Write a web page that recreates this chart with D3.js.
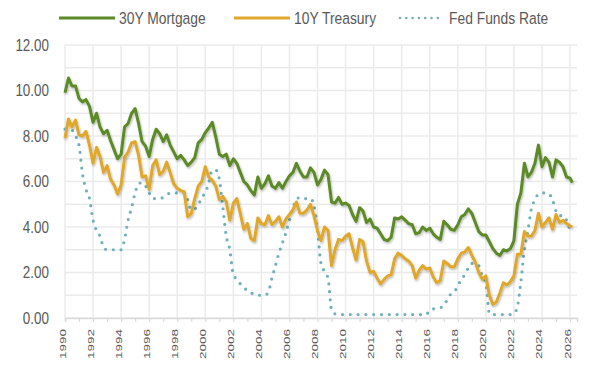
<!DOCTYPE html>
<html>
<head>
<meta charset="utf-8">
<script src="https://cdn.jsdelivr.net/npm/d3@7"></script>
<style>
  body { margin: 0; background: #fff; }
  svg { display: block; font-family: "Liberation Sans Narrow", "Liberation Sans", sans-serif; }
</style>
</head>
<body>
<svg id="chart" width="600" height="374"></svg>
<script>
const dates = [
  "1990-01","1990-04","1990-07","1990-10","1991-01","1991-04","1991-07","1991-10",
  "1992-01","1992-04","1992-07","1992-10","1993-01","1993-04","1993-07","1993-10",
  "1994-01","1994-04","1994-07","1994-10","1995-01","1995-04","1995-07","1995-10",
  "1996-01","1996-04","1996-07","1996-10","1997-01","1997-04","1997-07","1997-10",
  "1998-01","1998-04","1998-07","1998-10","1999-01","1999-04","1999-07","1999-10",
  "2000-01","2000-04","2000-07","2000-10","2001-01","2001-04","2001-07","2001-10",
  "2002-01","2002-04","2002-07","2002-10","2003-01","2003-04","2003-07","2003-10",
  "2004-01","2004-04","2004-07","2004-10","2005-01","2005-04","2005-07","2005-10",
  "2006-01","2006-04","2006-07","2006-10","2007-01","2007-04","2007-07","2007-10",
  "2008-01","2008-04","2008-07","2008-10","2009-01","2009-04","2009-07","2009-10",
  "2010-01","2010-04","2010-07","2010-10","2011-01","2011-04","2011-07","2011-10",
  "2012-01","2012-04","2012-07","2012-10","2013-01","2013-04","2013-07","2013-10",
  "2014-01","2014-04","2014-07","2014-10","2015-01","2015-04","2015-07","2015-10",
  "2016-01","2016-04","2016-07","2016-10","2017-01","2017-04","2017-07","2017-10",
  "2018-01","2018-04","2018-07","2018-10","2019-01","2019-04","2019-07","2019-10",
  "2020-01","2020-04","2020-07","2020-10","2021-01","2021-04","2021-07","2021-10",
  "2022-01","2022-04","2022-07","2022-10","2023-01","2023-04","2023-07","2023-10",
  "2024-01","2024-04","2024-07","2024-10","2025-01","2025-04","2025-07","2025-10",
  "2026-01","2026-03"
];

const mortgage30 = [
  9.9, 10.55, 10.2, 10.2,   9.65, 9.5, 9.6, 9.3,
  8.6, 9.0, 8.4, 8.1,       8.25, 7.8, 7.4, 7.0,
  7.2, 8.4, 8.55, 9.0,      9.2, 8.55, 7.75, 7.55,
  7.1, 7.85, 8.3, 8.1,      7.75, 8.05, 7.6, 7.3,
  7.0, 7.15, 6.95, 6.7,     6.85, 7.05, 7.7, 7.85,
  8.15, 8.35, 8.6, 7.95,    7.2, 7.1, 7.2, 6.7,
  7.0, 6.8, 6.4, 6.0,       5.85, 5.6, 5.4, 6.2,
  5.7, 5.9, 6.25, 5.8,      5.7, 5.95, 5.7, 6.0,
  6.25, 6.4, 6.8, 6.45,     6.2, 6.2, 6.6, 6.4,
  5.85, 6.1, 6.5, 6.3,      5.1, 5.05, 5.3, 5.0,
  5.05, 4.95, 4.55, 4.25,   4.85, 4.7, 4.2, 4.35,
  4.0, 3.95, 3.7, 3.45,     3.4, 3.55, 4.4, 4.35,
  4.45, 4.3, 4.15, 4.1,     3.7, 3.75, 4.0, 3.85,
  3.95, 3.7, 3.55, 3.45,    4.25, 4.1, 3.9, 3.85,
  4.1, 4.45, 4.55, 4.8,     4.6, 4.2, 3.8, 3.65,
  3.65, 3.35, 3.05, 2.85,   2.75, 3.0, 2.95, 3.05,
  3.4, 5.0, 5.5, 6.8,       6.2, 6.4, 6.8, 7.6,
  6.65, 7.05, 6.85, 6.2,    6.95, 6.85, 6.65, 6.2,
  6.15, 5.95
];

const treasury10 = [
  7.9, 8.75, 8.4, 8.7,      8.05, 8.0, 8.2, 7.6,
  6.8, 7.5, 7.1, 6.4,       6.7, 6.1, 5.85, 5.45,
  5.85, 7.05, 7.3, 7.7,     7.75, 7.15, 6.2, 6.25,
  5.65, 6.7, 6.95, 6.3,     6.45, 6.85, 6.4, 5.9,
  5.7, 5.6, 5.55, 4.45,     4.6, 5.25, 5.8, 6.0,
  6.65, 6.2, 6.05, 5.8,     5.2, 5.35, 5.1, 4.3,
  5.05, 5.25, 4.6, 3.9,     4.15, 3.5, 3.4, 4.4,
  4.15, 4.1, 4.5, 4.1,      4.25, 4.45, 4.0, 4.35,
  4.55, 4.75, 5.1, 4.6,     4.6, 4.75, 5.0, 4.5,
  3.85, 3.4, 4.0, 3.85,     2.3, 3.0, 3.45, 3.4,
  3.6, 3.7, 3.1, 2.55,      3.45, 3.35, 2.5, 2.0,
  2.05, 1.75, 1.5, 1.7,     1.85, 1.9, 2.6, 2.85,
  2.75, 2.6, 2.5, 2.3,      1.75, 2.1, 2.3, 2.15,
  2.2, 1.8, 1.55, 1.65,     2.5, 2.4, 2.25, 2.25,
  2.6, 2.85, 2.9, 3.1,      2.75, 2.45, 2.0, 1.7,
  1.85, 1.0, 0.6, 0.7,      1.1, 1.55, 1.45, 1.6,
  1.85, 2.8, 2.8, 3.8,      3.6, 3.6, 3.85, 4.6,
  4.0, 4.2, 4.4, 3.9,       4.55, 4.2, 4.3, 4.15,
  4.05, 4.0
];

const fedFunds = [
  8.3, 8.25, 8.25, 8.0,     7.6, 6.35, 5.65, 5.25,
  4.3, 3.85, 3.6, 3.1,      3.0, 3.0, 3.0, 3.0,
  3.0, 3.45, 4.3, 4.85,     5.5, 5.9, 5.95, 5.8,
  5.5, 5.25, 5.25, 5.25,    5.3, 5.4, 5.5, 5.5,
  5.5, 5.5, 5.5, 5.2,       4.75, 4.8, 4.95, 5.3,
  5.5, 5.95, 6.5, 6.5,      6.1, 4.9, 3.6, 3.0,
  1.9, 1.7, 1.5, 1.35,      1.2, 1.1, 1.05, 1.0,
  1.0, 1.0, 1.15, 1.75,     2.3, 2.85, 3.3, 3.75,
  4.3, 4.85, 5.2, 5.3,      5.25, 5.25, 5.25, 4.95,
  3.85, 2.4, 2.05, 1.75,    0.35, 0.18, 0.15, 0.15,
  0.15, 0.15, 0.15, 0.15,   0.15, 0.15, 0.15, 0.15,
  0.15, 0.15, 0.15, 0.15,   0.15, 0.15, 0.15, 0.15,
  0.15, 0.15, 0.15, 0.15,   0.15, 0.15, 0.15, 0.15,
  0.35, 0.4, 0.42, 0.45,    0.55, 0.8, 1.05, 1.15,
  1.4, 1.7, 1.9, 2.2,       2.4, 2.4, 2.3, 1.85,
  1.55, 0.2, 0.15, 0.15,    0.15, 0.15, 0.15, 0.15,
  0.2, 0.5, 1.6, 3.0,       3.85, 4.8, 5.2, 5.45,
  5.5, 5.5, 5.45, 5.2,      4.7, 4.5, 4.5, 4.3,
  3.85, null
];

const seriesNames = ["30Y Mortgage", "10Y Treasury", "Fed Funds Rate"];
const yTicks = [0, 2, 4, 6, 8, 10, 12];

const svg = d3.select("#chart");
const parse = d3.timeParse("%Y-%m");
const plotLeft = 65, plotRight = 577, plotTop = 45, plotBottom = 318;
const squeeze = 0.84; // the reference's text is narrow, squeeze it sideways

const x = d3.scaleTime()
  .domain([parse("1990-01"), parse("2026-07")])
  .range([plotLeft, plotRight]);
const y = d3.scaleLinear().domain([0, 12]).range([plotBottom, plotTop]);

// shadow under the lines, like the spreadsheet chart
const defs = svg.append("defs");
defs.append("filter").attr("id", "shadow")
  .attr("x", "-5%").attr("y", "-5%").attr("width", "110%").attr("height", "120%")
  .append("feDropShadow")
  .attr("dx", 0.8).attr("dy", 1.5).attr("stdDeviation", 0.9)
  .attr("flood-color", "#000").attr("flood-opacity", 0.3);

// grid
const evenYears = d3.timeYear.every(2).range(parse("1990-01"), parse("2027-01"));
const grid = svg.append("g").attr("stroke", "#ebebeb").attr("stroke-width", 1.5);
grid.selectAll(".h").data(d3.range(0, 13)).join("line")
  .attr("class", "h")
  .attr("x1", plotLeft).attr("x2", plotRight)
  .attr("y1", d => y(d)).attr("y2", d => y(d));
grid.selectAll(".v").data(evenYears).join("line")
  .attr("class", "v")
  .attr("x1", d => x(d)).attr("x2", d => x(d))
  .attr("y1", plotTop).attr("y2", plotBottom);

// y labels
svg.append("g").selectAll("text").data(yTicks).join("text")
  .attr("transform", d => `translate(49,${y(d)}) scale(${squeeze},1)`)
  .attr("dy", "0.36em")
  .attr("text-anchor", "end")
  .attr("font-size", 16)
  .attr("fill", "#595959")
  .text(d => d3.format(".2f")(d));

// x axis
const xAxis = svg.append("g")
  .attr("transform", `translate(0,${plotBottom})`)
  .call(d3.axisBottom(x).ticks(d3.timeYear.every(1)).tickSize(4).tickFormat(""));
xAxis.select(".domain").attr("stroke", "#d9d9d9").attr("stroke-width", 1.5);
xAxis.selectAll(".tick line").attr("stroke", "#d9d9d9").attr("stroke-width", 1.2);

svg.append("g").selectAll("text")
  .data(evenYears)
  .join("text")
  .attr("transform", d => `translate(${x(d) - 2.5},${plotBottom + 11}) rotate(-90) scale(1,0.62)`)
  .attr("text-anchor", "end")
  .attr("dy", "0.36em")
  .attr("font-size", 13.5)
  .attr("fill", "#595959")
  .text(d => d.getFullYear());

// series
const rows = dates.map((d, i) => ({
  date: parse(d), m: mortgage30[i], t: treasury10[i], f: fedFunds[i]
}));

function lineFor(key, curve) {
  return d3.line()
    .defined(d => d[key] != null)
    .x(d => x(d.date)).y(d => y(d[key]))
    .curve(curve);
}

const colors = ["#5b8a26", "#e0a82b", "#6fb0b9"];

svg.append("path").datum(rows)
  .attr("d", lineFor("f", d3.curveMonotoneX))
  .attr("fill", "none").attr("stroke", colors[2])
  .attr("stroke-width", 3.2).attr("stroke-linecap", "round")
  .attr("stroke-dasharray", "0 7.8");

svg.append("path").datum(rows)
  .attr("d", lineFor("t", d3.curveLinear))
  .attr("fill", "none").attr("stroke", colors[1])
  .attr("stroke-width", 3).attr("stroke-linejoin", "round")
  .attr("filter", "url(#shadow)");

svg.append("path").datum(rows)
  .attr("d", lineFor("m", d3.curveLinear))
  .attr("fill", "none").attr("stroke", colors[0])
  .attr("stroke-width", 3).attr("stroke-linejoin", "round")
  .attr("filter", "url(#shadow)");

// legend
const legendX = [59, 234, 400];
const legend = svg.append("g").selectAll("g").data(seriesNames).join("g")
  .attr("transform", (d, i) => `translate(${legendX[i]},18)`);
legend.append("line")
  .attr("x1", 0).attr("x2", (d, i) => i === 2 ? 44 : 56)
  .attr("stroke", (d, i) => colors[i])
  .attr("stroke-width", (d, i) => i === 2 ? 2.6 : 3)
  .attr("stroke-linecap", (d, i) => i === 2 ? "round" : "butt")
  .attr("stroke-dasharray", (d, i) => i === 2 ? "0 6.3" : null);
legend.append("text")
  .attr("transform", (d, i) => `translate(${i === 2 ? 49 : 60},5.5) scale(${squeeze},1)`)
  .attr("font-size", 16.5)
  .attr("fill", "#595959")
  .text(d => d);
</script>
</body>
</html>
